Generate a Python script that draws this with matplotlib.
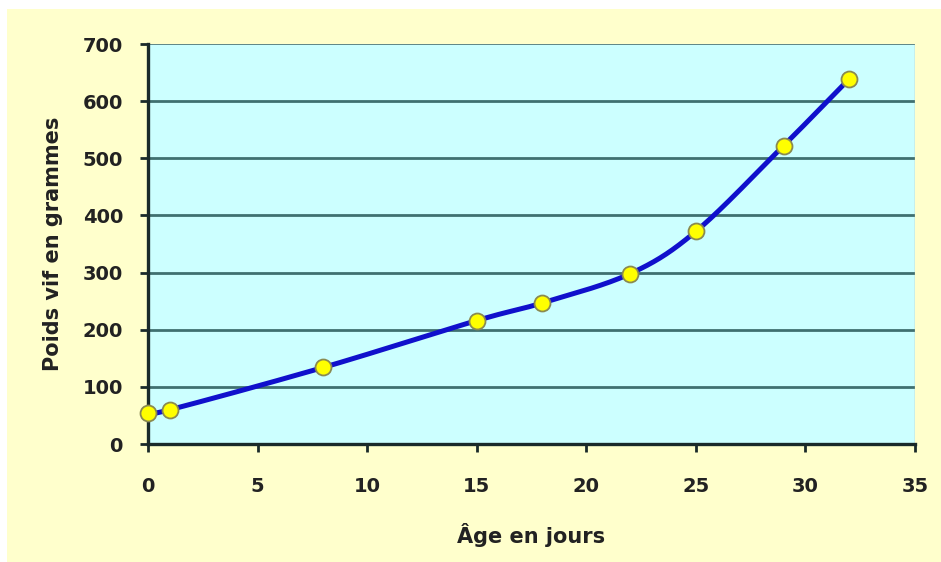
import numpy as np
import matplotlib
matplotlib.use("Agg")
import matplotlib.pyplot as plt
from matplotlib.patches import Rectangle

# Live weight of broilers by age
age_days = [0, 1, 8, 15, 18, 22, 25, 29, 32]
weight_g = [55, 60, 134, 216, 247, 298, 372, 522, 639]

x_ticks = [0, 5, 10, 15, 20, 25, 30, 35]
y_ticks = [0, 100, 200, 300, 400, 500, 600, 700]
x_label = "Âge en jours"
y_label = "Poids vif en grammes"


def smooth_curve(xs, ys, n=30):
    """Catmull-Rom spline through the data points (smoothed line)."""
    xs = np.asarray(xs, float)
    ys = np.asarray(ys, float)
    px = np.concatenate([[2 * xs[0] - xs[1]], xs, [2 * xs[-1] - xs[-2]]])
    py = np.concatenate([[2 * ys[0] - ys[1]], ys, [2 * ys[-1] - ys[-2]]])
    out_x, out_y = [], []
    t = np.linspace(0, 1, n)
    for i in range(1, len(px) - 2):
        for p, out in ((px, out_x), (py, out_y)):
            p0, p1, p2, p3 = p[i - 1], p[i], p[i + 1], p[i + 2]
            m1 = (p2 - p0) / 2
            m2 = (p3 - p1) / 2
            h00 = 2 * t**3 - 3 * t**2 + 1
            h10 = t**3 - 2 * t**2 + t
            h01 = -2 * t**3 + 3 * t**2
            h11 = t**3 - t**2
            out.extend(h00 * p1 + h10 * m1 + h01 * p2 + h11 * m2)
    return np.array(out_x), np.array(out_y)


plt.rcParams["font.family"] = ["DejaVu Sans"]
plt.rcParams["font.weight"] = "bold"

fig = plt.figure(figsize=(9.41, 5.62), dpi=100)
fig.patch.set_facecolor("white")
fig.patches.append(Rectangle((7 / 941, 0), 1, 1 - 9 / 562, transform=fig.transFigure,
                             facecolor="#FFFFCC", edgecolor="none", zorder=-10))

ax = fig.add_axes([148 / 941, 118 / 562, 767 / 941, 400 / 562])
ax.set_facecolor("#CCFFFF")

ax.set_xlim(0, 35)
ax.set_ylim(0, 700)
ax.set_xticks(x_ticks)
ax.set_yticks(y_ticks)

for y in y_ticks[1:-1]:
    ax.axhline(y, color="#3F7070", lw=2.0, zorder=1)
ax.axhline(y_ticks[-1], color="#5F8585", lw=1.4, zorder=1)

sx, sy = smooth_curve(age_days, weight_g)
ax.plot(sx, sy, color="#1010CC", lw=3.6, zorder=3, solid_capstyle="round")
ax.plot(age_days, weight_g, ls="none", marker="o", ms=11.5,
        mfc="#FFFF00", mec="#8A8A50", mew=1.3, zorder=4, clip_on=False)

for side in ("top", "right"):
    ax.spines[side].set_visible(False)
for side in ("left", "bottom"):
    ax.spines[side].set_color("#1A2A2A")
    ax.spines[side].set_linewidth(2.4)
ax.plot([1, 1], [0, 1], transform=ax.transAxes, color="#B0B0A0", lw=1, zorder=2)

ax.tick_params(axis="both", direction="out", length=6, width=2,
               color="#1A2A2A", labelsize=14, labelcolor="#222222")
ax.tick_params(axis="x", pad=18)
ax.tick_params(axis="y", pad=12)
for lbl in ax.get_xticklabels() + ax.get_yticklabels():
    lbl.set_fontweight("bold")

ax.set_xlabel(x_label, fontsize=15, fontweight="bold", color="#222222", labelpad=19)
ax.set_ylabel(y_label, fontsize=15, fontweight="bold", color="#222222", labelpad=14)

fig.savefig("out.png", dpi=100, facecolor=fig.get_facecolor())
